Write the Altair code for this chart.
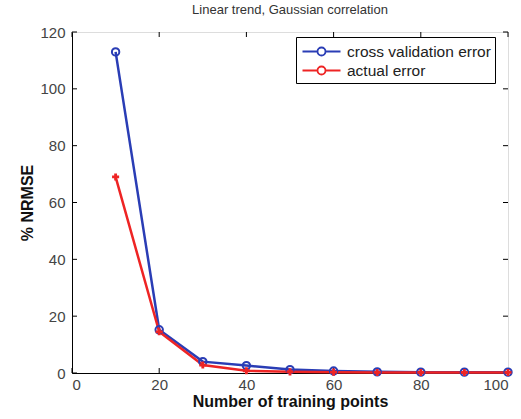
import altair as alt
import pandas as pd

n_points = [10, 20, 30, 40, 50, 60, 70, 80, 90, 100]
cv_error = [113, 15.2, 4.0, 2.6, 1.2, 0.7, 0.4, 0.3, 0.3, 0.3]
actual_error = [69, 14.5, 2.8, 0.8, 0.4, 0.3, 0.2, 0.2, 0.2, 0.2]
series_names = ["cross validation error", "actual error"]
series_colors = ["#2a3db5", "#ee2424"]
x_ticks = [0, 20, 40, 60, 80, 100]
y_ticks = [0, 20, 40, 60, 80, 100, 120]

W, H = 436, 341

rows = []
for n, v in zip(n_points, cv_error):
    rows.append({"n": n, "err": v, "series": series_names[0]})
for n, v in zip(n_points, actual_error):
    rows.append({"n": n, "err": v, "series": series_names[1]})
df = pd.DataFrame(rows)

xs = alt.Scale(domain=[0, 100], nice=False)
ys = alt.Scale(domain=[0, 120], nice=False)

color = alt.Color(
    "series:N",
    scale=alt.Scale(domain=series_names, range=series_colors),
    legend=alt.Legend(
        title=None,
        orient="none",
        legendX=224,
        legendY=5,
        strokeColor="black",
        fillColor="white",
        padding=4,
        symbolType="M-2,0H-0.42M0.42,0H2M0.42,0A0.42,0.42 0 1,1 -0.42,0A0.42,0.42 0 1,1 0.42,0",
        symbolSize=361,
        symbolStrokeWidth=1.8,
        symbolFillColor="transparent",
        symbolOpacity=1,
        symbolOffset=11,
        labelOffset=15,
        labelFont="Liberation Sans",
        labelFontSize=15.5,
        labelColor="#222",
        rowPadding=0,
    ),
)

x_enc = alt.X(
    "n:Q",
    scale=xs,
    axis=alt.Axis(
        values=x_ticks,
        title="Number of training points",
        titleFont="Liberation Sans",
        titleFontSize=16,
        titleFontWeight="bold",
        titleColor="#111",
        titlePadding=1,
        labelFont="Liberation Sans",
        labelFontSize=15,
        labelColor="#444",
        labelPadding=4,
        ticks=False,
        grid=False,
        domainColor="black",
    ),
)
y_enc = alt.Y(
    "err:Q",
    scale=ys,
    axis=alt.Axis(
        values=y_ticks,
        title="% NRMSE",
        titleFont="Liberation Sans",
        titleFontSize=16,
        titleFontWeight="bold",
        titleColor="#111",
        titlePadding=4,
        labelFont="Liberation Sans",
        labelFontSize=15,
        labelColor="#444",
        labelPadding=7,
        ticks=False,
        grid=False,
        domainColor="black",
    ),
)

base = alt.Chart(df).encode(x=x_enc, y=y_enc)

lines = base.mark_line(strokeWidth=2.5).encode(color=color)
cv_pts = base.transform_filter(alt.datum.series == series_names[0]).mark_point(
    shape="circle", filled=False, size=55, strokeWidth=2, opacity=1
).encode(color=color)
act_pts = base.transform_filter(alt.datum.series == series_names[1]).mark_point(
    shape="cross", filled=True, size=50, opacity=1, color=series_colors[1]
)

xt = pd.DataFrame({"t": x_ticks})
yt = pd.DataFrame({"t": y_ticks})
tick_style = dict(color="black", strokeWidth=1)
xb = alt.Chart(xt).mark_rule(**tick_style).encode(x=alt.X("t:Q", scale=xs), y=alt.value(H), y2=alt.value(H - 5))
xtp = alt.Chart(xt).mark_rule(**tick_style).encode(x=alt.X("t:Q", scale=xs), y=alt.value(0), y2=alt.value(5))
yl = alt.Chart(yt).mark_rule(**tick_style).encode(y=alt.Y("t:Q", scale=ys), x=alt.value(0), x2=alt.value(5))
yr = alt.Chart(yt).mark_rule(**tick_style).encode(y=alt.Y("t:Q", scale=ys), x=alt.value(W), x2=alt.value(W - 5))

chart = (
    alt.layer(xb, xtp, yl, yr, lines, cv_pts, act_pts)
    .properties(
        width=W,
        height=H,
        title=alt.TitleParams(
            "Linear trend, Gaussian correlation",
            font="Liberation Sans",
            fontSize=13,
            fontWeight="normal",
            color="#333",
            offset=8,
        ),
        padding={"left": 72, "top": 32, "right": 13, "bottom": 46},
        autosize=alt.AutoSizeParams(type="none"),
    )
    .configure_view(stroke="black", strokeWidth=1)
    .configure(background="white")
)

chart.save("out.html", embed_options={"renderer": "svg", "actions": False})
